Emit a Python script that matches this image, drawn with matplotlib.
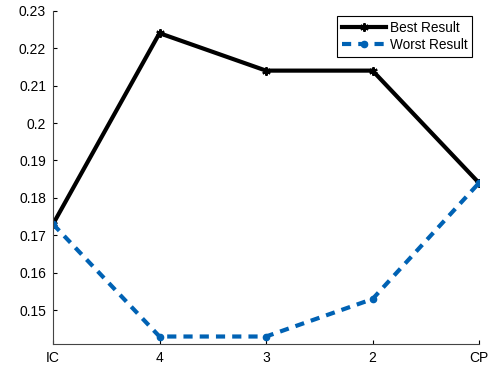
import numpy as np
import matplotlib
matplotlib.use("Agg")
import matplotlib.pyplot as plt

plt.rcParams['font.family'] = ['Liberation Sans', 'DejaVu Sans']

categories = ["IC", "4", "3", "2", "CP"]
best_result = [0.173, 0.224, 0.214, 0.214, 0.184]
worst_result = [0.173, 0.143, 0.143, 0.153, 0.184]

fig = plt.figure(figsize=(4.98, 3.68), dpi=100)
ax = fig.add_axes([53 / 498, 1 - 344 / 368, (479 - 53) / 498, (344 - 10.7) / 368])

x = np.arange(len(categories))
ax.plot(x, best_result, color='black', lw=3, marker=(6, 2, 0), ms=6, mew=1.5,
        label='Best Result')
ax.plot(x, worst_result, color='#0062b4', lw=3, ls=(0, (2.2, 1.7)), marker='o',
        ms=4.5, label='Worst Result')

ax.set_xlim(0, len(categories) - 1)
ax.set_ylim(0.141, 0.23)
ax.set_xticks(x)
ax.set_xticklabels(categories)
ax.set_yticks(np.arange(0.15, 0.2301, 0.01))
ax.set_yticklabels(["0.15", "0.16", "0.17", "0.18", "0.19", "0.2", "0.21", "0.22", "0.23"])
ax.tick_params(direction='in', length=3, labelsize=10, colors='black', pad=5)
for s in ['top', 'right']:
    ax.spines[s].set_visible(False)
for s in ['left', 'bottom']:
    ax.spines[s].set_color('#444444')
    ax.spines[s].set_linewidth(0.8)

leg = ax.legend(loc='upper right', bbox_to_anchor=(472 / 498, 1 - 16 / 368),
                bbox_transform=fig.transFigure, fontsize=9.8, fancybox=False,
                edgecolor='black', framealpha=1, borderpad=0.35, labelspacing=0.25,
                handlelength=3.2, handletextpad=0.3, borderaxespad=0)
leg.get_frame().set_linewidth(0.8)

fig.savefig("out.png", dpi=100)
